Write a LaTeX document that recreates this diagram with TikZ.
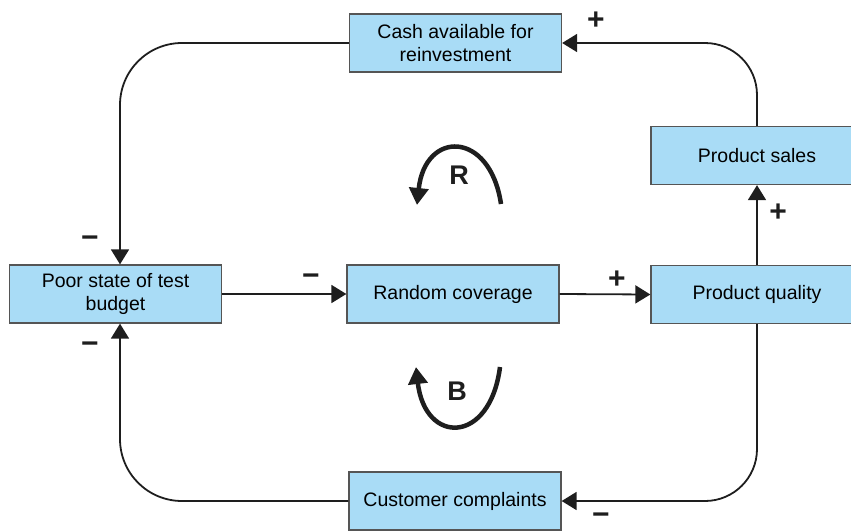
\documentclass[tikz,border=0pt]{standalone}
\usepackage{fontspec}
\setmainfont{Liberation Sans}
\usetikzlibrary{arrows.meta}
\definecolor{boxfill}{RGB}{169,220,246}
\definecolor{boxline}{RGB}{85,85,85}
\definecolor{ink}{RGB}{30,30,30}
\tikzset{
  factor/.style={draw=boxline, line width=1.3pt, fill=boxfill, minimum width=212pt,
    minimum height=58pt, align=center, inner sep=2pt,
    font=\fontsize{19.5}{22.5}\selectfont, text=black},
  link/.style={draw=ink, line width=1.8pt, -{Triangle[length=15pt,width=18pt]}},
  polarity/.style={font=\fontsize{30}{30}\selectfont\bfseries, text=ink, inner sep=0pt},
  loopmark/.style={draw=ink, line width=4.5pt, -{Triangle[length=17pt,width=19pt]}},
  looplabel/.style={font=\fontsize{27}{27}\selectfont\bfseries, text=ink, inner sep=0pt}
}
\begin{document}
\begin{tikzpicture}[x=1pt,y=-1pt]
\useasboundingbox (0,0) rectangle (851,530);
\begin{scope}
\clip (0,0) rectangle (851,530);
% factors of the causal loop
\node[factor] (cash)  at (455.5,43)  {Cash available for\\reinvestment};
\node[factor] (sales) at (757,155.5) {Product sales};
\node[factor] (poor)  at (115.5,294) {Poor state of test\\budget};
\node[factor] (cover) at (453,294)   {Random coverage};
\node[factor] (qual)  at (757,294.5) {Product quality};
\node[factor] (cust)  at (455,501)   {Customer complaints};
\end{scope}

% causal links
\draw[link, rounded corners=62pt] (cash.west) -| ([xshift=4.5pt]poor.north);
\draw[link, rounded corners=62pt] (cust.west) -| ([xshift=4.5pt]poor.south);
\draw[link, rounded corners=52pt] (sales.north) |- (cash.east);
\draw[link, rounded corners=52pt] (qual.south) |- (cust.east);
\draw[link] (qual.north) -- (sales.south);
\draw[link] (poor.east) -- (cover.west);
\draw[link] (cover.east) -- (qual.west);

% link polarities
\node[polarity] (p1) at (596,21)  {+};
\node[polarity] (p2) at (778,213) {+};
\node[polarity] (p3) at (617,280) {+};
\node[polarity] (m1) at (90,242)  {−};
\node[polarity] (m2) at (90,348)  {−};
\node[polarity] (m3) at (311,280) {−};
\node[polarity, anchor=south] (m4) at (601,525) {−};

% loop markers
\coordinate (rs) at (501,204);
\coordinate (re) at (417,205);
\draw[loopmark] (rs) .. controls (490,130) and (425,130) .. (re);
\node[looplabel] (rl) at (459,175) {R};
\coordinate (bs) at (500,367);
\coordinate (be) at (416,367);
\draw[loopmark] (bs) .. controls (490,445) and (425,445) .. (be);
\node[looplabel] (bl) at (457,391) {B};
\end{tikzpicture}
\end{document}
